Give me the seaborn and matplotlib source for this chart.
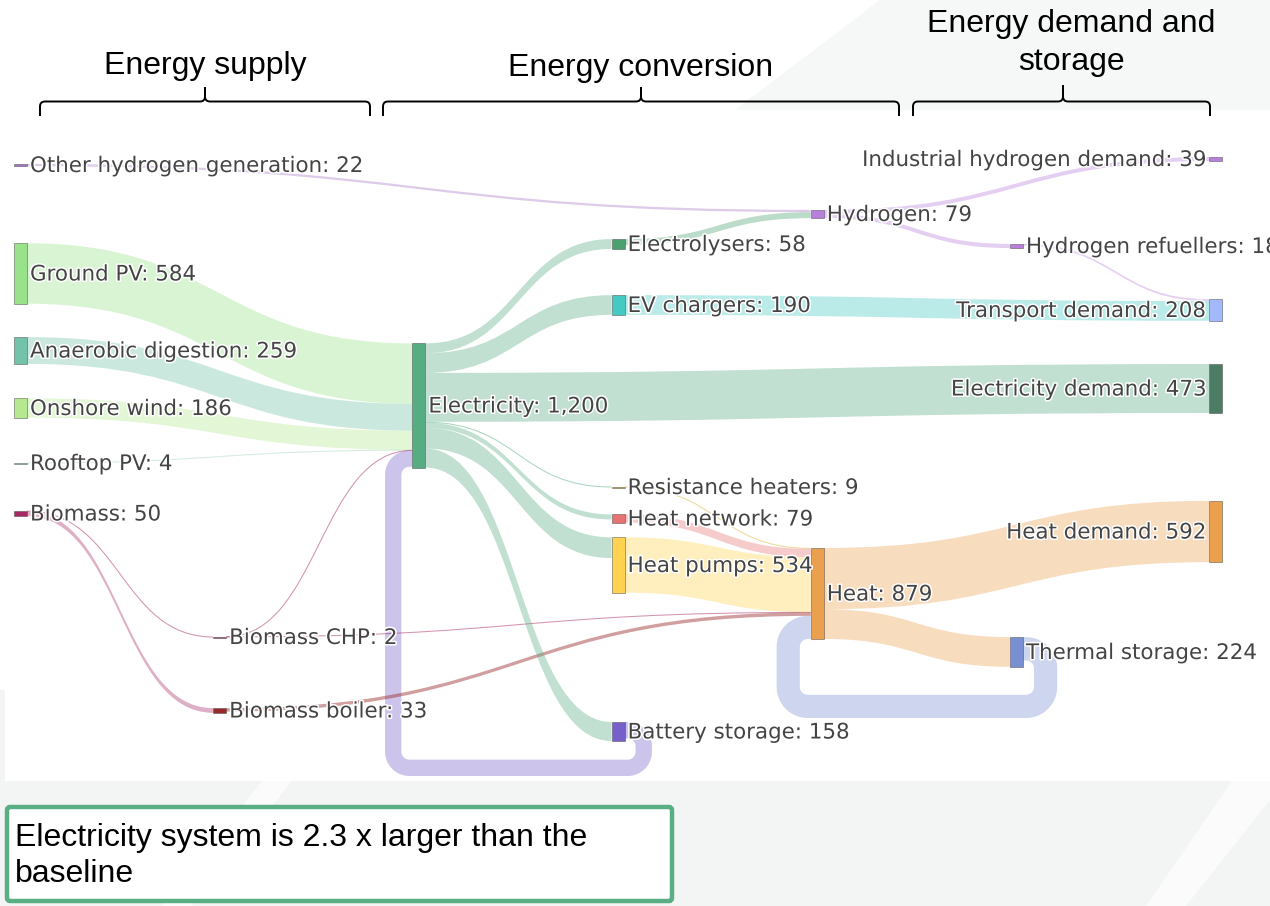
import numpy as np
import matplotlib
matplotlib.use("Agg")
import matplotlib.pyplot as plt
import seaborn as sns
from matplotlib.path import Path
from matplotlib.patches import PathPatch, Rectangle, Polygon, FancyBboxPatch
import matplotlib.patheffects as pe

# ---------------------------------------------------------------- data
node_names = [
    "Other hydrogen generation", "Ground PV", "Anaerobic digestion", "Onshore wind",
    "Rooftop PV", "Biomass", "Biomass CHP", "Biomass boiler", "Electricity",
    "Electrolysers", "EV chargers", "Resistance heaters", "Heat network", "Heat pumps",
    "Battery storage", "Hydrogen", "Heat", "Hydrogen refuellers", "Thermal storage",
    "Industrial hydrogen demand", "Transport demand", "Electricity demand", "Heat demand",
]
node_label_values = [22, 584, 259, 186, 4, 50, 2, 33, 1200, 58, 190, 9, 79, 534,
                     158, 79, 879, 18, 224, 39, 208, 473, 592]
node_colors = [
    "#a672c4", "#98e38a", "#72c3a9", "#b5e88f", "#a9d9bb", "#a62863", "#a62863",
    "#992a2a", "#57ad83", "#4aa070", "#45c9c3", "#d9b53a", "#e67272", "#ffd24f",
    "#7860cc", "#b87fdc", "#eba04e", "#b87fdc", "#7890d2", "#b87fdc", "#a3b9fb",
    "#4c7c64", "#eba04e",
]

link_source = [
    "Other hydrogen generation", "Ground PV", "Anaerobic digestion", "Onshore wind",
    "Rooftop PV", "Biomass", "Biomass", "Biomass CHP", "Biomass CHP", "Biomass boiler",
    "Electricity", "Electricity", "Electricity", "Electricity", "Electricity",
    "Electricity", "Electricity", "Battery storage", "Electrolysers", "EV chargers",
    "Resistance heaters", "Heat network", "Heat pumps", "Hydrogen", "Hydrogen",
    "Hydrogen refuellers", "Heat", "Heat", "Thermal storage",
]
link_target = [
    "Hydrogen", "Electricity", "Electricity", "Electricity",
    "Electricity", "Biomass CHP", "Biomass boiler", "Electricity", "Heat", "Heat",
    "Electrolysers", "EV chargers", "Electricity demand", "Resistance heaters", "Heat network",
    "Heat pumps", "Battery storage", "Electricity", "Hydrogen", "Transport demand",
    "Heat", "Heat", "Heat", "Industrial hydrogen demand", "Hydrogen refuellers",
    "Transport demand", "Heat demand", "Thermal storage", "Heat",
]
link_values = [22, 584, 259, 186, 4, 5, 45, 1, 1, 33,
               95, 190, 473, 9, 49, 200, 184, 158, 58, 190,
               9, 79, 534, 39, 40, 18, 592, 287, 224]

section_titles = ["Energy supply", "Energy conversion", "Energy demand and\nstorage"]
note_text = "Electricity system is 2.3 x larger than the\nbaseline"

# ---------------------------------------------------------------- layout
W, H, DPI = 1270, 906, 100
SCALE = 0.1035          # pixels per unit of energy
NODE_W = 13
COL_X0, COL_STEP = 14, 199.2
LINK_ALPHA = 0.37

# column index and vertical centre of every node (pixel space)
node_layout = {
    "Other hydrogen generation": (0, 165), "Ground PV": (0, 273.5),
    "Anaerobic digestion": (0, 350.5), "Onshore wind": (0, 408),
    "Rooftop PV": (0, 463), "Biomass": (0, 513.5),
    "Biomass CHP": (1, 637), "Biomass boiler": (1, 710.5),
    "Electricity": (2, 405.5),
    "Electrolysers": (3, 244), "EV chargers": (3, 305), "Resistance heaters": (3, 487),
    "Heat network": (3, 518.5), "Heat pumps": (3, 565), "Battery storage": (3, 731.5),
    "Hydrogen": (4, 214), "Heat": (4, 593.5),
    "Hydrogen refuellers": (5, 246), "Thermal storage": (5, 652),
    "Industrial hydrogen demand": (6, 159), "Transport demand": (6, 310),
    "Electricity demand": (6, 388.5), "Heat demand": (6, 531.5),
}
# backward (circular) links: outer bottom edge of the loop
loop_bottom = {("Battery storage", "Electricity"): 776,
               ("Thermal storage", "Heat"): 718}

sns.set_theme(style="white")
plt.rcParams["font.family"] = ["DejaVu Sans"]

fig = plt.figure(figsize=(W / DPI, H / DPI), dpi=DPI)
fig.patch.set_facecolor("white")
ax = fig.add_axes([0, 0, 1, 1])
ax.set_xlim(0, W)
ax.set_ylim(H, 0)
ax.axis("off")

# ---------------------------------------------------------------- slide background
bg = "#f3f4f4"
ax.add_patch(Polygon([(735, 110), (880, 0), (W, 0), (W, 110)], closed=True,
                     facecolor="#f6f7f7", edgecolor="none", zorder=0))
ax.add_patch(Rectangle((0, 781), W, H - 781, facecolor=bg, edgecolor="none", zorder=0))
ax.add_patch(Rectangle((0, 690), 5, 91, facecolor=bg, edgecolor="none", zorder=0))
for pts in ([(262, 781), (292, 781), (192, 906), (162, 906)],
            [(1232, 781), (W, 781), (W, 800), (1186, 906), (1146, 906)]):
    ax.add_patch(Polygon(pts, closed=True, facecolor="#fbfbfb", edgecolor="none", zorder=0))

# ---------------------------------------------------------------- node geometry
color_of = dict(zip(node_names, node_colors))
inflow = {n: 0.0 for n in node_names}
outflow = {n: 0.0 for n in node_names}
for s, t, v in zip(link_source, link_target, link_values):
    outflow[s] += v
    inflow[t] += v

geom = {}
for n in node_names:
    col, yc = node_layout[n]
    h = max(inflow[n], outflow[n]) * SCALE
    geom[n] = dict(x=COL_X0 + col * COL_STEP, top=yc - h / 2, h=h, col=col, yc=yc)


def is_loop(s, t):
    return geom[t]["col"] <= geom[s]["col"]


# stack links on each node side
out_off, in_off = {}, {}
for n in node_names:
    outs = [i for i, s in enumerate(link_source) if s == n]
    outs.sort(key=lambda i: (is_loop(n, link_target[i]), geom[link_target[i]]["yc"]))
    y = geom[n]["top"]
    for i in outs:
        out_off[i] = y
        y += link_values[i] * SCALE
    ins = [i for i, t in enumerate(link_target) if t == n]
    ins.sort(key=lambda i: (is_loop(link_source[i], n), geom[link_source[i]]["yc"]))
    y = geom[n]["top"]
    for i in ins:
        in_off[i] = y
        y += link_values[i] * SCALE


def rgba(c, a):
    r, g, b = matplotlib.colors.to_rgb(c)
    return (r, g, b, a)


def loop_centerline(xs, ys, xt, yt, xr, yb, xl, r):
    th = np.linspace(0, np.pi / 2, 20)
    px, py = [xs], [ys]
    cx, cy = xr - r, ys + r
    px += list(cx + r * np.sin(th)); py += list(cy - r * np.cos(th))
    cx, cy = xr - r, yb - r
    px += list(cx + r * np.cos(th)); py += list(cy + r * np.sin(th))
    cx, cy = xl + r, yb - r
    px += list(cx - r * np.sin(th)); py += list(cy + r * np.cos(th))
    cx, cy = xl + r, yt + r
    px += list(cx - r * np.cos(th)); py += list(cy - r * np.sin(th))
    px.append(xt); py.append(yt)
    return px, py


# ---------------------------------------------------------------- links
for i, (s, t, v) in enumerate(zip(link_source, link_target, link_values)):
    w = v * SCALE
    col = color_of[s]
    x0 = geom[s]["x"] + NODE_W
    x1 = geom[t]["x"]
    y0 = out_off[i]
    y1 = in_off[i]
    if is_loop(s, t):
        gap = w / 2 + 11
        r = w / 2 + 8
        yb = loop_bottom[(s, t)] - w / 2
        px, py = loop_centerline(x0, y0 + w / 2, x1, y1 + w / 2,
                                 x0 + gap, yb, x1 - gap, r)
        ax.plot(px, py, color=rgba(col, LINK_ALPHA), lw=w * 72 / DPI,
                solid_capstyle="butt", solid_joinstyle="round", zorder=1)
        continue
    xm = (x0 + x1) / 2
    if w < 1.2:
        yc0, yc1 = y0 + w / 2, y1 + w / 2
        path = Path([(x0, yc0), (xm, yc0), (xm, yc1), (x1, yc1)],
                    [Path.MOVETO, Path.CURVE4, Path.CURVE4, Path.CURVE4])
        ax.add_patch(PathPatch(path, facecolor="none", edgecolor=rgba(col, 0.5),
                               lw=0.75, zorder=2))
        continue
    verts = [(x0, y0), (xm, y0), (xm, y1), (x1, y1),
             (x1, y1 + w), (xm, y1 + w), (xm, y0 + w), (x0, y0 + w), (x0, y0)]
    codes = [Path.MOVETO, Path.CURVE4, Path.CURVE4, Path.CURVE4,
             Path.LINETO, Path.CURVE4, Path.CURVE4, Path.CURVE4, Path.CLOSEPOLY]
    alpha = 0.45 if s == "Biomass boiler" else LINK_ALPHA
    ax.add_patch(PathPatch(Path(verts, codes), facecolor=rgba(col, alpha),
                           edgecolor="none", lw=0, zorder=2))

# ---------------------------------------------------------------- nodes and labels
halo = [pe.withStroke(linewidth=2.2, foreground="white")]
for n, val in zip(node_names, node_label_values):
    g = geom[n]
    h = max(g["h"], 1.0)
    ax.add_patch(Rectangle((g["x"], g["yc"] - h / 2), NODE_W, h,
                           facecolor=color_of[n], edgecolor=(0.27, 0.27, 0.27, 0.55),
                           lw=0.6, zorder=4))
    label = f"{n}: {val:,}"
    ty = g["yc"] + 1
    if g["col"] == 6:
        ax.text(g["x"] - 3, ty, label, ha="right", va="center", fontsize=15.4,
                color="#444444", path_effects=halo, zorder=5)
    else:
        ax.text(g["x"] + NODE_W + 3, ty, label, ha="left", va="center",
                fontsize=15.4, color="#444444", path_effects=halo, zorder=5)

# ---------------------------------------------------------------- section braces
def brace(x0, x1, xc, y_line=101.5, y_end=116, y_tip=87, r=5):
    left = Path([(x0, y_end), (x0, y_line + r), (x0, y_line), (x0 + r, y_line),
                 (xc - r, y_line), (xc, y_line), (xc, y_line - r), (xc, y_tip)],
                [Path.MOVETO, Path.LINETO, Path.CURVE3, Path.CURVE3,
                 Path.LINETO, Path.CURVE3, Path.CURVE3, Path.LINETO])
    right = Path([(x1, y_end), (x1, y_line + r), (x1, y_line), (x1 - r, y_line),
                  (xc + r, y_line), (xc, y_line), (xc, y_line - r), (xc, y_tip)],
                 [Path.MOVETO, Path.LINETO, Path.CURVE3, Path.CURVE3,
                  Path.LINETO, Path.CURVE3, Path.CURVE3, Path.LINETO])
    for p in (left, right):
        ax.add_patch(PathPatch(p, facecolor="none", edgecolor="black", lw=1.4,
                               capstyle="butt", zorder=6))


brace(40, 370, 205)
brace(383, 899, 641)
brace(913, 1210, 1063, y_tip=85)

title_pos = [(205, 66), (641, 68), (1071, 43)]
for txt, (x, y) in zip(section_titles, title_pos):
    ax.text(x, y, txt, ha="center", va="center", fontsize=23, color="black",
            family=["Liberation Sans", "DejaVu Sans"], linespacing=1.33, zorder=6)

# ---------------------------------------------------------------- note box
ax.add_patch(FancyBboxPatch((7, 807), 665, 94,
                            boxstyle="round,pad=0,rounding_size=3",
                            facecolor="white", edgecolor="#5aae84", lw=3.2, zorder=6))
ax.text(15, 856, note_text, ha="left", va="center", fontsize=23, color="black",
        family=["Liberation Sans", "DejaVu Sans"], linespacing=1.3, zorder=7)

fig.savefig("out.png", dpi=DPI, facecolor=fig.get_facecolor())
